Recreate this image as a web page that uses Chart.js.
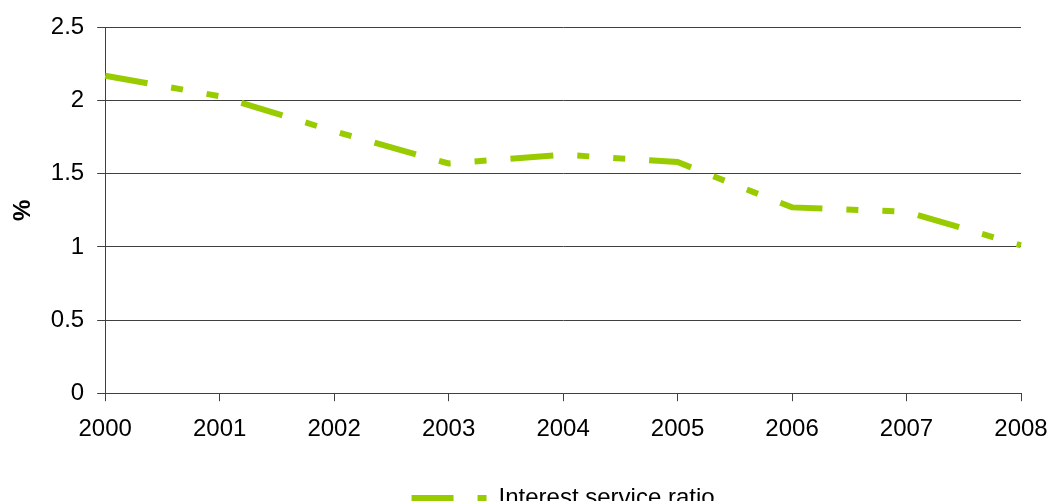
<!DOCTYPE html>
<html>
<head>
<meta charset="utf-8">
<script src="https://cdn.jsdelivr.net/npm/chart.js@4.4.1/dist/chart.umd.min.js"></script>
<style>
html,body{margin:0;padding:0;background:#fff;overflow:hidden;}
#wrap{width:1049px;height:520px;position:relative;}
</style>
</head>
<body>
<div id="wrap"><canvas id="c"></canvas></div>
<script>
const years = ['2000','2001','2002','2003','2004','2005','2006','2007','2008'];
const interestServiceRatio = [2.17, 2.03, 1.79, 1.57, 1.63, 1.58, 1.27, 1.24, 1.01];
const yTicks = [0, 0.5, 1, 1.5, 2, 2.5];
const seriesName = 'Interest service ratio';
const lineColor = '#99CC00';
const dashPattern = [43, 24, 12, 24, 12, 24];

const font = {family: '"Liberation Sans", Arial, sans-serif', size: 24};

new Chart(document.getElementById('c'), {
  type: 'line',
  data: {
    labels: years,
    datasets: [{
      label: seriesName,
      data: interestServiceRatio,
      borderColor: lineColor,
      backgroundColor: lineColor,
      borderWidth: 6,
      borderDash: dashPattern,
      pointRadius: 0,
      tension: 0,
      fill: false
    }]
  },
  options: {
    responsive: true,
    maintainAspectRatio: false,
    animation: false,
    events: [],
    layout: {padding: {left: 0, right: 0, top: 19, bottom: 0}},
    plugins: {
      tooltip: {enabled: false},
      legend: {
        position: 'bottom',
        fullSize: false,
        labels: {
          font: font,
          color: '#000',
          padding: 28,
          usePointStyle: true,
          pointStyleWidth: 75,
          generateLabels: (chart) => [{
            text: seriesName,
            fillStyle: lineColor,
            strokeStyle: lineColor,
            lineWidth: 6,
            lineDash: [42, 24, 12, 24],
            pointStyle: 'line',
            datasetIndex: 0,
            hidden: false
          }]
        }
      }
    },
    scales: {
      x: {
        type: 'category',
        offset: false,
        afterFit: (scale) => { scale.paddingRight = 28; },
        grid: {display: true, drawOnChartArea: false, drawTicks: true, tickLength: 8, color: '#404040', lineWidth: 1},
        border: {display: true, color: '#404040', width: 1},
        ticks: {font: font, color: '#000', padding: 14, maxRotation: 0, autoSkip: false}
      },
      y: {
        min: 0,
        max: 2.5,
        afterBuildTicks: (axis) => { axis.ticks = yTicks.map(v => ({value: v})); },
        grid: {display: true, drawOnChartArea: true, drawTicks: true, tickLength: 8, color: '#404040', lineWidth: 1},
        border: {display: true, color: '#404040', width: 1},
        ticks: {font: font, color: '#000', padding: 13, callback: (v) => String(v)},
        title: {display: true, text: '%', font: {family: font.family, size: 24, weight: 'bold'}, color: '#000', padding: {top: 9, bottom: 0}}
      }
    }
  }
});
</script>
</body>
</html>
